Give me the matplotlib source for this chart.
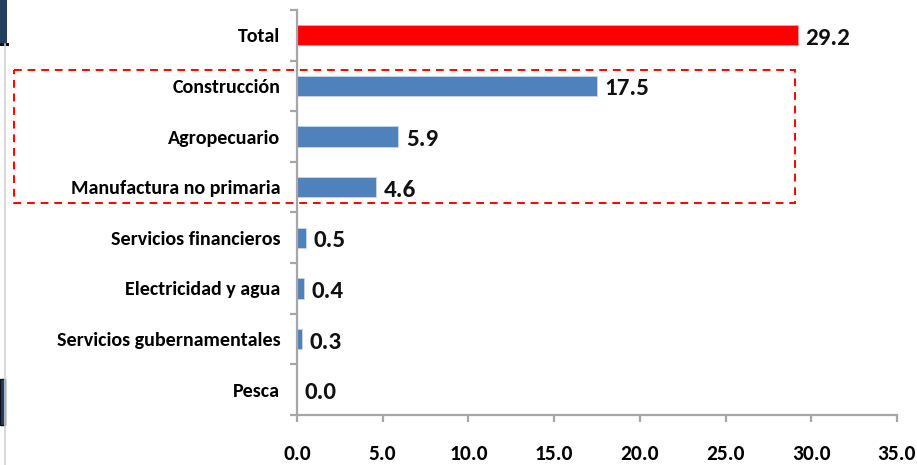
"""
Contribución por sector (barras horizontales), recreación del gráfico de referencia.
"""
import matplotlib
matplotlib.use("Agg")
import matplotlib.pyplot as plt
import matplotlib.patches as mpatches
from matplotlib.lines import Line2D

# ---------------------------------------------------------------------------
# Datos
# ---------------------------------------------------------------------------
SECTORES = [
    "Total",
    "Construcción",
    "Agropecuario",
    "Manufactura no primaria",
    "Servicios financieros",
    "Electricidad y agua",
    "Servicios gubernamentales",
    "Pesca",
]
VALORES = [29.2, 17.5, 5.9, 4.6, 0.5, 0.4, 0.3, 0.0]
X_TICKS = [0.0, 5.0, 10.0, 15.0, 20.0, 25.0, 30.0, 35.0]
DESTACADOS = ["Construcción", "Agropecuario", "Manufactura no primaria"]

AZUL = "#4F81BD"
ROJO = "#FF0000"
GRIS = "#A6A6A6"
FUENTE = ["Carlito", "DejaVu Sans"]

# ---------------------------------------------------------------------------
# Figura
# ---------------------------------------------------------------------------
W, H = 917, 465
fig = plt.figure(figsize=(W / 100, H / 100), dpi=100)
ax = fig.add_axes([297 / W, 50 / H, 600 / W, 405 / H])

pos = list(range(len(SECTORES)))
colores = [ROJO if s == "Total" else AZUL for s in SECTORES]
bars = ax.barh(pos, VALORES, height=0.4, color=colores,
               edgecolor="#C9D7EA", linewidth=0.6)
bars[0].set_edgecolor("#F7A0A0")

ax.set_xlim(0, 35)
ax.set_ylim(len(SECTORES) - 0.5, -0.5)

# Etiquetas de valor
for b, v in zip(bars, VALORES):
    ax.text(b.get_width() + 0.45, b.get_y() + b.get_height() / 2 + 0.06,
            f"{v:.1f}", va="center", ha="left", fontsize=18,
            fontweight="bold", family=FUENTE, color="#111111")

# Ejes
for side in ["top", "right"]:
    ax.spines[side].set_visible(False)
ax.spines["left"].set_color(GRIS)
ax.spines["bottom"].set_color(GRIS)
ax.spines["left"].set_linewidth(1.6)
ax.spines["bottom"].set_linewidth(1.6)

ax.set_yticks(pos)
ax.set_yticklabels(SECTORES, fontsize=14.4, fontweight="bold", family=FUENTE)
ax.set_yticks([p - 0.5 for p in pos] + [len(pos) - 0.5], minor=True)
ax.tick_params(axis="y", which="major", length=0, pad=12)
ax.tick_params(axis="y", which="minor", length=5, width=1.6, color=GRIS)
for lbl in ax.get_yticklabels():
    lbl.set_va("center_baseline")

ax.set_xticks(X_TICKS)
ax.set_xticklabels([f"{t:.1f}" for t in X_TICKS], fontsize=15.5,
                   fontweight="bold", family=FUENTE)
ax.tick_params(axis="x", length=5, width=1.6, color=GRIS, pad=16)

# Recuadro punteado alrededor de los sectores destacados
i0 = SECTORES.index(DESTACADOS[0])
i1 = SECTORES.index(DESTACADOS[-1])
x_left = (14 - 297) / 600 * 35
rect = mpatches.Rectangle((x_left, i0 - 0.31), 29.05 - x_left, (i1 - i0) + 0.63,
                          fill=False, edgecolor=ROJO, linestyle=(0, (4, 3)),
                          linewidth=1.4, clip_on=False)
ax.add_patch(rect)

# Restos del recorte a la izquierda (barra oscura y línea gris)
fig.add_artist(Line2D([4.5 / W, 4.5 / W], [0, 1 - 44 / H], color="#CFCFCF",
                      linewidth=1.2, transform=fig.transFigure))
fig.add_artist(mpatches.Rectangle((0, 1 - 43 / H), 7 / W, 43 / H,
                                  facecolor="#243F60", edgecolor="none",
                                  transform=fig.transFigure))
fig.add_artist(mpatches.Rectangle((0, 1 - 46 / H), 9 / W, 3 / H,
                                  facecolor="#111111", edgecolor="none",
                                  transform=fig.transFigure))
fig.add_artist(mpatches.Rectangle((0, 1 - 425 / H), 4.5 / W, 46 / H,
                                  facecolor="#243F60", edgecolor="#111111",
                                  linewidth=1.0, transform=fig.transFigure))

fig.savefig("out.png", dpi=100)
